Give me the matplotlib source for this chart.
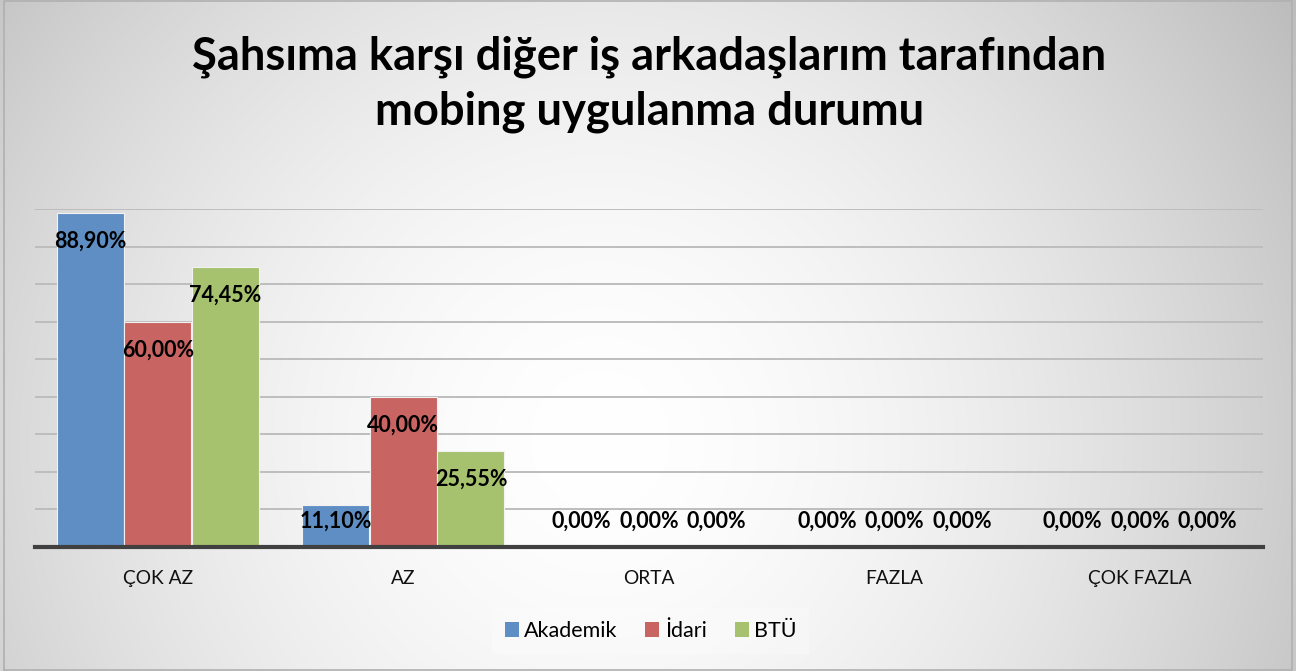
import numpy as np
import matplotlib.pyplot as plt
from matplotlib.patches import Patch

plt.rcParams['font.family'] = ['Lato', 'DejaVu Sans']

categories = ['ÇOK AZ', 'AZ', 'ORTA', 'FAZLA', 'ÇOK FAZLA']
series_names = ['Akademik', 'İdari', 'BTÜ']
akademik = [88.90, 11.10, 0.00, 0.00, 0.00]
idari = [60.00, 40.00, 0.00, 0.00, 0.00]
btu = [74.45, 25.55, 0.00, 0.00, 0.00]
colors = ['#5f8ec4', '#c86462', '#a6c26e']
title_lines = ['Şahsıma karşı diğer iş arkadaşlarım tarafından', 'mobing uygulanma durumu']

W, H = 1296, 671
fig = plt.figure(figsize=(W / 100, H / 100), dpi=100)

# radial gray gradient background
bg = fig.add_axes([0, 0, 1, 1], zorder=-10)
yy, xx = np.mgrid[0:H, 0:W]
d = np.sqrt((xx - 600) ** 2 + (yy - 440) ** 2)
v = np.clip(1 - 0.23 * (d / 760) ** 1.7, 0, 1)
bg.imshow(np.dstack([v, v, v]), extent=[0, 1, 0, 1], aspect='auto', origin='upper')
bg.plot([0.003, 0.997, 0.997, 0.003, 0.003], [0.002, 0.002, 0.998, 0.998, 0.002],
        color='#b0b0b0', lw=1.2)
bg.set_xlim(0, 1)
bg.set_ylim(0, 1)
bg.axis('off')

ax = fig.add_axes([35 / W, 1 - 546.7 / H, (1263 - 35) / W, (546.7 - 209) / H])
ax.patch.set_alpha(0)
x = np.arange(len(categories))
bw = 0.273
for i, (vals, c) in enumerate(zip([akademik, idari, btu], colors)):
    pos = x + (i - 1) * 0.275
    ax.bar(pos, vals, width=bw, color=c, edgecolor='#f2f2f2', linewidth=0.8, zorder=3)
    for px, val in zip(pos, vals):
        ly = max(val - 7.5, 6.7)
        ax.text(px, ly, f'{val:.2f}%'.replace('.', ','), ha='center', va='center',
                fontsize=15.5, fontweight='bold', color='black', zorder=5)

ax.set_xlim(-0.5, len(categories) - 0.5)
ax.set_ylim(0, 90)
ax.set_yticks(np.arange(10, 91, 10))
ax.yaxis.grid(True, color='#bdbdbd', linewidth=1.4, zorder=0)
ax.set_yticklabels([])
ax.tick_params(axis='y', length=0)
ax.set_xticks(x)
ax.set_xticklabels(categories, fontsize=13.8, color='#111111')
ax.tick_params(axis='x', length=0, pad=17)
for s in ['top', 'right', 'left']:
    ax.spines[s].set_visible(False)
ax.spines['bottom'].set_color('#404040')
ax.spines['bottom'].set_linewidth(3)
ax.spines['bottom'].set_zorder(6)

for ty, line in zip([57, 112], title_lines):
    fig.text(0.501, 1 - ty / H, line, ha='center', va='center', fontsize=32.7,
             fontweight='bold')

handles = [Patch(facecolor=c, edgecolor='none') for c in colors]
leg = fig.legend(handles, series_names, loc='center', bbox_to_anchor=(0.502, 1 - 631 / H),
                 ncol=3, frameon=True, fontsize=15.5, handlelength=0.65, handleheight=0.65,
                 handletextpad=0.25, columnspacing=1.3, fancybox=False, borderpad=0.6)
leg.get_frame().set_facecolor('white')
leg.get_frame().set_alpha(0.25)
leg.get_frame().set_edgecolor('none')

fig.savefig('out.png', dpi=100)
